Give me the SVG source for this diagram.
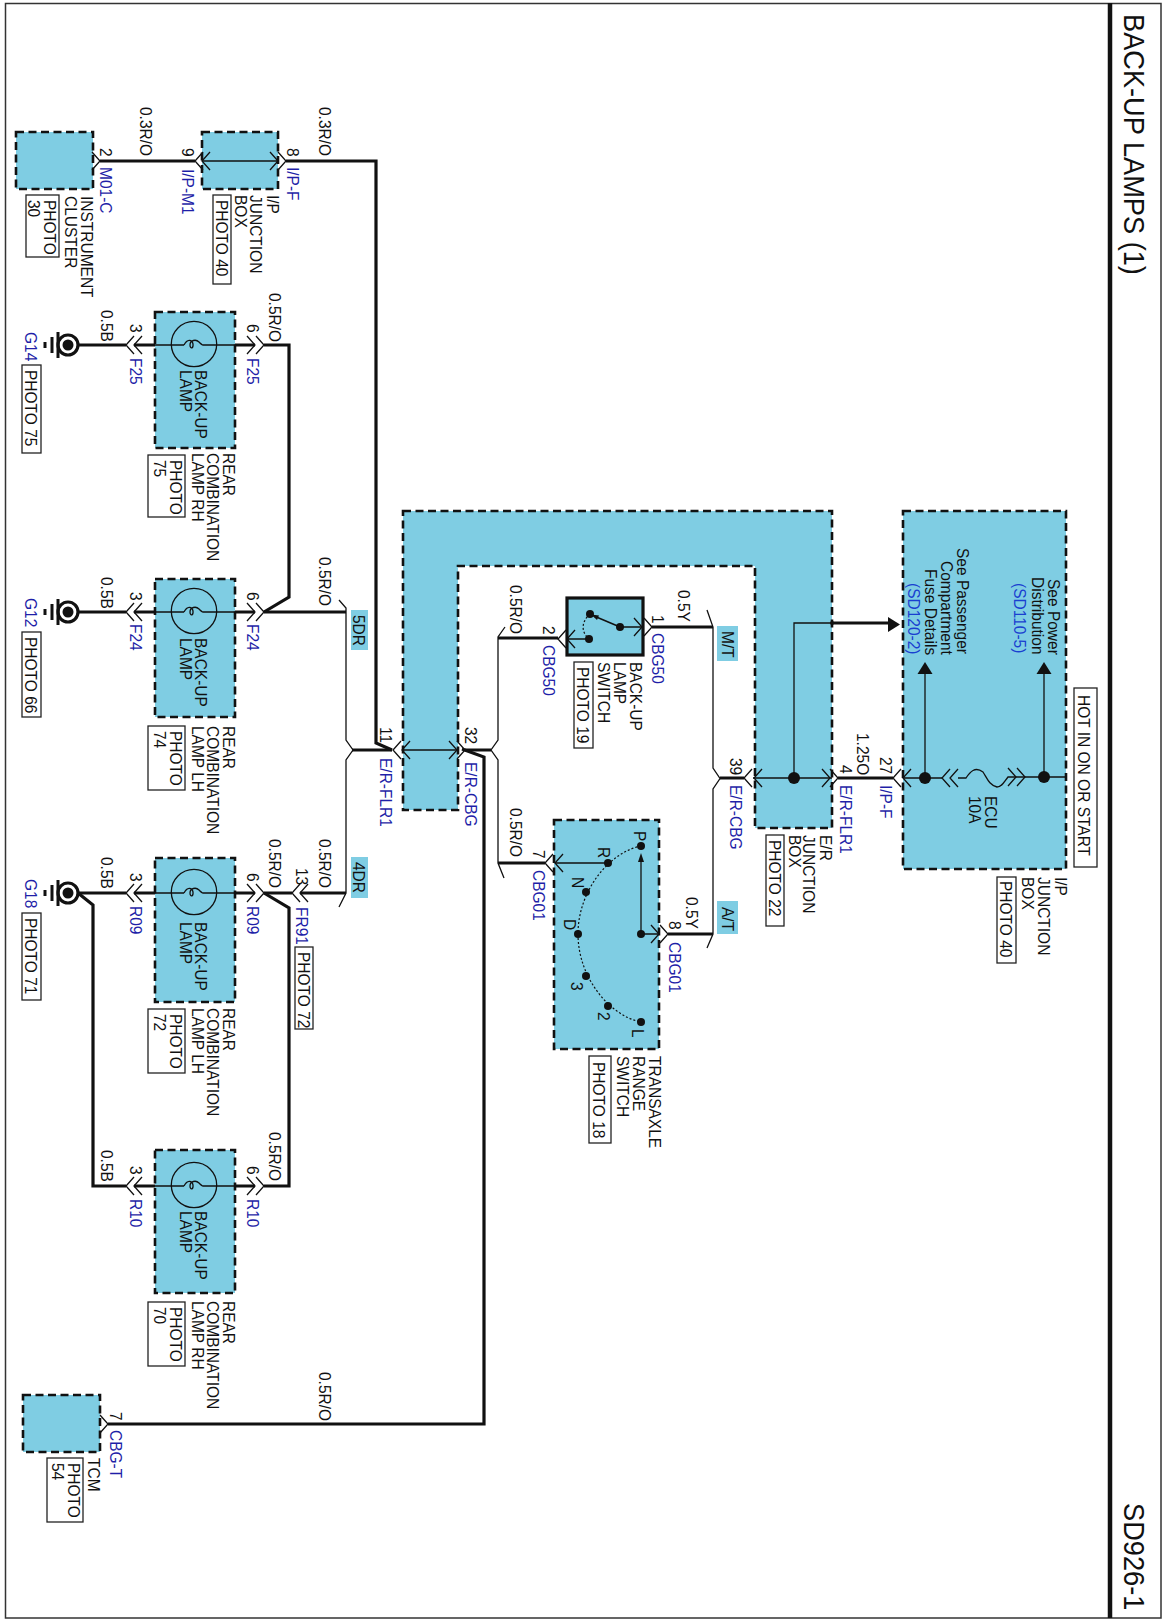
<svg xmlns="http://www.w3.org/2000/svg" width="1166" height="1622" viewBox="0 0 1166 1622">
<style>
text{font-family:"Liberation Sans",Arial,sans-serif;font-size:15.5px;fill:#111}
.b{fill:#1f1fa8}
.bb{fill:#1a3fd0}
.h{font-size:27.2px}
.box{fill:#7fcde3;stroke:#111;stroke-width:2.6;stroke-dasharray:8 4.5}
.chip{fill:#7fcde3}
.ph{fill:#fff;stroke:#222;stroke-width:1.3}
.w{fill:none;stroke:#111;stroke-width:3.2}
.f{fill:none;stroke:#111;stroke-width:1.3}
.dot{fill:#111}
.d{fill:none;stroke:#111;stroke-width:1.2;stroke-dasharray:2 2}
</style>
<defs>
<path id="cr" class="f" d="M-8 -9L0 0L-8 9"/>
<path id="cl" class="f" d="M8 -9L0 0L8 9"/>
<g id="lampglyph">
<circle class="f" cx="0" cy="0" r="22.7"/>
<path class="f" d="M-10 1C-7 -5 -2 -5 -1 0C-.5 5 -4 5 -4 1C-4 -4 2 -5 5 -2C7 0 8 1 9 1"/>
</g>
<g id="gnd">
<circle cx="0" cy="0" r="10" fill="#fff" stroke="#111" stroke-width="3.2"/>
<circle cx="0" cy="0" r="5.5" fill="#111"/>
<path d="M-10 -13V13M-16 -8V8M-23 -3V3" fill="none" stroke="#111" stroke-width="3"/>
</g>
</defs>
<rect id="frame" x="5.5" y="3.5" width="1155.5" height="1614.5" fill="none" stroke="#333" stroke-width="1.5"/>
<path d="M1110 3V1618" stroke="#111" stroke-width="4.5"/>
<g id="title">
<text class="h" transform="matrix(0 1 -1.08 0 1124 14)">BACK-UP LAMPS (1)</text>
<text class="h" transform="matrix(0 1 -1.08 0 1124 1503)">SD926-1</text>
</g>

<g id="instrument-cluster">
<rect class="box" x="16" y="132" width="77" height="57"/>
<text transform="matrix(0 1 -1.06 0 81 196)">INSTRUMENT</text>
<text transform="matrix(0 1 -1.06 0 65 196)">CLUSTER</text>
<rect class="ph" x="26" y="195" width="33" height="62"/>
<text transform="matrix(0 1 -1.06 0 44 200)">PHOTO</text>
<text transform="matrix(0 1 -1.06 0 28 200)">30</text>
</g>

<g id="ip-junction-top">
<rect class="box" x="202" y="132" width="76" height="57"/>
<path class="f" d="M202 161H278"/>
<use href="#cl" x="202" y="161"/><use href="#cr" x="278" y="161"/>
<text transform="matrix(0 1 -1.06 0 267 195)">I/P</text>
<text transform="matrix(0 1 -1.06 0 250 195)">JUNCTION</text>
<text transform="matrix(0 1 -1.06 0 235 195)">BOX</text>
<rect class="ph" x="213" y="195" width="18" height="89"/>
<text transform="matrix(0 1 -1.06 0 216 200)">PHOTO 40</text>
</g>

<g id="lamp-f25">
<rect class="box" x="155" y="312" width="80" height="136"/>
<use href="#lampglyph" x="194" y="344"/>
<path class="f" d="M155 345H184M203 345H235"/>
<text transform="matrix(0 1 -1.06 0 195 370)">BACK-UP</text>
<text transform="matrix(0 1 -1.06 0 180 370)">LAMP</text>
<text transform="matrix(0 1 -1.06 0 223 453)">REAR</text>
<text transform="matrix(0 1 -1.06 0 207 453)">COMBINATION</text>
<text transform="matrix(0 1 -1.06 0 192 453)">LAMP RH</text>
<rect class="ph" x="148" y="455" width="37" height="62"/>
<text transform="matrix(0 1 -1.06 0 170 460)">PHOTO</text>
<text transform="matrix(0 1 -1.06 0 154 460)">75</text>
</g>
<g id="lamp-f24">
<rect class="box" x="155" y="579" width="80" height="138"/>
<use href="#lampglyph" x="194" y="611"/>
<path class="f" d="M155 612H184M203 612H235"/>
<text transform="matrix(0 1 -1.06 0 195 638)">BACK-UP</text>
<text transform="matrix(0 1 -1.06 0 180 638)">LAMP</text>
<text transform="matrix(0 1 -1.06 0 223 726)">REAR</text>
<text transform="matrix(0 1 -1.06 0 207 726)">COMBINATION</text>
<text transform="matrix(0 1 -1.06 0 192 726)">LAMP LH</text>
<rect class="ph" x="148" y="726" width="37" height="64"/>
<text transform="matrix(0 1 -1.06 0 170 731)">PHOTO</text>
<text transform="matrix(0 1 -1.06 0 154 731)">74</text>
</g>
<g id="lamp-r09">
<rect class="box" x="155" y="858" width="80" height="144"/>
<use href="#lampglyph" x="194" y="892"/>
<path class="f" d="M155 893H184M203 893H235"/>
<text transform="matrix(0 1 -1.06 0 195 922)">BACK-UP</text>
<text transform="matrix(0 1 -1.06 0 180 922)">LAMP</text>
<text transform="matrix(0 1 -1.06 0 223 1008)">REAR</text>
<text transform="matrix(0 1 -1.06 0 207 1008)">COMBINATION</text>
<text transform="matrix(0 1 -1.06 0 192 1008)">LAMP LH</text>
<rect class="ph" x="148" y="1009" width="37" height="64"/>
<text transform="matrix(0 1 -1.06 0 170 1014)">PHOTO</text>
<text transform="matrix(0 1 -1.06 0 154 1014)">72</text>
</g>
<g id="lamp-r10">
<rect class="box" x="155" y="1150" width="80" height="143"/>
<use href="#lampglyph" x="194" y="1185"/>
<path class="f" d="M155 1186H184M203 1186H235"/>
<text transform="matrix(0 1 -1.06 0 195 1211)">BACK-UP</text>
<text transform="matrix(0 1 -1.06 0 180 1211)">LAMP</text>
<text transform="matrix(0 1 -1.06 0 223 1301)">REAR</text>
<text transform="matrix(0 1 -1.06 0 207 1301)">COMBINATION</text>
<text transform="matrix(0 1 -1.06 0 192 1301)">LAMP RH</text>
<rect class="ph" x="148" y="1302" width="37" height="64"/>
<text transform="matrix(0 1 -1.06 0 170 1307)">PHOTO</text>
<text transform="matrix(0 1 -1.06 0 154 1307)">70</text>
</g>

<g id="g14">
<use href="#gnd" x="68" y="345"/>
<text class="b" transform="matrix(0 1 -1.06 0 25 332)">G14</text>
<rect class="ph" x="22" y="365" width="19" height="88"/>
<text transform="matrix(0 1 -1.06 0 25 370)">PHOTO 75</text>
</g>
<g id="g12">
<use href="#gnd" x="68" y="612"/>
<text class="b" transform="matrix(0 1 -1.06 0 25 598)">G12</text>
<rect class="ph" x="22" y="632" width="19" height="85"/>
<text transform="matrix(0 1 -1.06 0 25 637)">PHOTO 66</text>
</g>
<g id="g18">
<use href="#gnd" x="68" y="893"/>
<text class="b" transform="matrix(0 1 -1.06 0 25 879)">G18</text>
<rect class="ph" x="22" y="913" width="19" height="87"/>
<text transform="matrix(0 1 -1.06 0 25 918)">PHOTO 71</text>
</g>

<g id="tcm">
<rect class="box" x="23" y="1395" width="77" height="57"/>
<text transform="matrix(0 1 -1.06 0 88 1458)">TCM</text>
<rect class="ph" x="47" y="1458" width="36" height="64"/>
<text transform="matrix(0 1 -1.06 0 68 1463)">PHOTO</text>
<text transform="matrix(0 1 -1.06 0 52 1463)">54</text>
</g>

<g id="er-junction">
<path class="box" d="M403 511H832V828H755V566H458V810H403Z"/>
<path class="f" d="M403 750H458M753 778H832M794 778V623H832"/>
<circle class="dot" cx="794" cy="778" r="6"/>
<circle class="dot" cx="832" cy="623" r="2"/>
<use href="#cl" x="402" y="750"/><use href="#cr" x="457" y="750"/>
<use href="#cl" x="754" y="778"/><use href="#cr" x="830" y="778"/>
<text transform="matrix(0 1 -1.06 0 820 835)">E/R</text>
<text transform="matrix(0 1 -1.06 0 803 835)">JUNCTION</text>
<text transform="matrix(0 1 -1.06 0 789 835)">BOX</text>
<rect class="ph" x="766" y="835" width="18" height="91"/>
<text transform="matrix(0 1 -1.06 0 769 840)">PHOTO 22</text>
</g>

<g id="backup-switch">
<rect x="567" y="598" width="76" height="57" fill="#7fcde3" stroke="#111" stroke-width="3.2"/>
<path class="f" d="M620 627H642M589 639H567"/>
<use href="#cr" x="642" y="627"/><use href="#cl" x="567" y="639"/>
<path d="M620 627L594 616" stroke="#111" stroke-width="1.6"/>
<path class="dot" d="M591 614.5L599 615.5L597 620Z"/>
<path class="d" d="M590 614C581 622 581 632 589 639"/>
<circle class="dot" cx="590" cy="614" r="4"/>
<circle class="dot" cx="620" cy="627" r="4"/>
<circle class="dot" cx="589" cy="639" r="4"/>
<text transform="matrix(0 1 -1.06 0 630 662)">BACK-UP</text>
<text transform="matrix(0 1 -1.06 0 614 662)">LAMP</text>
<text transform="matrix(0 1 -1.06 0 598 662)">SWITCH</text>
<rect class="ph" x="574" y="662" width="19" height="86"/>
<text transform="matrix(0 1 -1.06 0 577 667)">PHOTO 19</text>
</g>

<g id="transaxle-switch">
<rect class="box" x="554" y="820" width="105" height="229"/>
<path class="f" d="M555 863H608M641 934H659M641 934V860"/>
<use href="#cl" x="555" y="863"/><use href="#cr" x="659" y="934"/>
<path class="dot" d="M641 853L644 862H638Z"/>
<path class="d" d="M641 846C610 852 578 890 578 934C578 978 610 1016 641 1022"/>
<g class="dot">
<circle cx="641" cy="846" r="4"/><circle cx="608" cy="863" r="4"/><circle cx="586" cy="892" r="4"/><circle cx="578" cy="934" r="4"/><circle cx="586" cy="976" r="4"/><circle cx="608" cy="1006" r="4"/><circle cx="641" cy="1022" r="4"/><circle cx="641" cy="934" r="4"/>
</g>
<text transform="matrix(0 1 -1.06 0 634 831)">P</text>
<text transform="matrix(0 1 -1.06 0 598 847)">R</text>
<text transform="matrix(0 1 -1.06 0 572 877)">N</text>
<text transform="matrix(0 1 -1.06 0 564 919)">D</text>
<text transform="matrix(0 1 -1.06 0 571 982)">3</text>
<text transform="matrix(0 1 -1.06 0 598 1012)">2</text>
<text transform="matrix(0 1 -1.06 0 632 1029)">L</text>
<text transform="matrix(0 1 -1.06 0 649 1056)">TRANSAXLE</text>
<text transform="matrix(0 1 -1.06 0 633 1056)">RANGE</text>
<text transform="matrix(0 1 -1.06 0 617 1056)">SWITCH</text>
<rect class="ph" x="589" y="1056" width="22" height="87"/>
<text transform="matrix(0 1 -1.06 0 593 1062)">PHOTO 18</text>
</g>

<g id="ip-junction-main">
<rect class="box" x="903" y="511" width="163" height="358"/>
<path class="f" d="M903 778H942M925 778V670M1044 777V670M1025 777H1066M958 778H966C970 772 975 766 983 772C987 778 989 785 997 787C1002 787 1004 782 1008 777H1025"/>
<use href="#cl" x="903" y="778"/><use href="#cl" x="942" y="778"/><use href="#cl" x="950" y="778"/>
<use href="#cr" x="1016" y="777"/><use href="#cr" x="1025" y="777"/>
<circle class="dot" cx="925" cy="778" r="6"/>
<circle class="dot" cx="1044" cy="777" r="6"/>
<path class="dot" d="M925 662L932.5 674H917.5Z"/>
<path class="dot" d="M1044 662L1051.5 674H1036.5Z"/>
<text transform="matrix(0 1 -1.06 0 985 796)">ECU</text>
<text transform="matrix(0 1 -1.06 0 969 796)">10A</text>
<text transform="matrix(0 1 -1.06 0 1048 579)">See Power</text>
<text transform="matrix(0 1 -1.06 0 1032 577)">Distribution</text>
<text class="bb" transform="matrix(0 1 -1.06 0 1014 583)">(SD110-5)</text>
<text transform="matrix(0 1 -1.06 0 957 548)">See Passenger</text>
<text transform="matrix(0 1 -1.06 0 941 561)">Compartment</text>
<text transform="matrix(0 1 -1.06 0 925 569)">Fuse Details</text>
<text class="bb" transform="matrix(0 1 -1.06 0 908 583)">(SD120-2)</text>
<text transform="matrix(0 1 -1.06 0 1055 877)">I/P</text>
<text transform="matrix(0 1 -1.06 0 1038 877)">JUNCTION</text>
<text transform="matrix(0 1 -1.06 0 1022 877)">BOX</text>
<rect class="ph" x="997" y="877" width="19" height="86"/>
<text transform="matrix(0 1 -1.06 0 1000 881)">PHOTO 40</text>
<rect class="ph" x="1074" y="688" width="23" height="179"/>
<text transform="matrix(0 1 -1.06 0 1078 695)">HOT IN ON OR START</text>
</g>

<g id="connectors">
<path class="w" d="M100 161H195M286 161H376V743L392 750"/>
<path class="w" d="M78 345H126M134 345H155M235 345H255M264 345H289V597L264 612"/>
<path class="w" d="M78 612H126M134 612H155M235 612H255M264 612H346"/>
<path class="w" d="M78 893H126M134 893H155M235 893H255M264 893H292M300 893H346"/>
<path class="w" d="M264 893L289 908V1186H264M235 1186H255M155 1186H134M126 1186H93V905L78 893"/>
<path class="w" d="M352 750H392"/>
<path class="w" d="M465 750H491M498 638H558M498 863H545M652 627H713M668 934H713M720 778H744M838 778H893"/>
<path class="w" d="M108 1424H484V757L462 749"/>
<path class="w" d="M832 623H890" stroke-width="4"/>
<path class="dot" d="M900 624.500L888 617V632Z"/>
<path class="f" d="M339 600L346 608V740L353 750L346 760V893L339 907"/>
<path class="f" d="M505 627L498 637V740L491 750L498 760V863L504 878"/>
<path class="f" d="M707 610L713 627V768L720 778.500L713 789V934L707 948"/>
<use href="#cr" x="100" y="161"/><use href="#cl" x="195" y="161"/><use href="#cr" x="286" y="161"/>
<use href="#cl" x="126" y="345"/><use href="#cl" x="134" y="345"/><use href="#cr" x="255" y="345"/><use href="#cr" x="264" y="345"/>
<use href="#cl" x="126" y="612"/><use href="#cl" x="134" y="612"/><use href="#cr" x="255" y="612"/><use href="#cr" x="264" y="612"/>
<use href="#cl" x="126" y="893"/><use href="#cl" x="134" y="893"/><use href="#cr" x="255" y="893"/><use href="#cr" x="264" y="893"/>
<use href="#cl" x="292" y="893"/><use href="#cl" x="300" y="893"/>
<use href="#cl" x="126" y="1186"/><use href="#cl" x="134" y="1186"/><use href="#cr" x="255" y="1186"/><use href="#cr" x="264" y="1186"/>
<use href="#cr" x="108" y="1424"/>
<use href="#cl" x="393" y="750"/><use href="#cr" x="465" y="750"/>
<use href="#cl" x="558" y="639"/><use href="#cr" x="652" y="627"/>
<use href="#cl" x="545" y="863"/><use href="#cr" x="668" y="934"/>
<use href="#cl" x="744" y="778"/><use href="#cr" x="838" y="778"/><use href="#cl" x="893" y="778"/>
</g>

<g id="wire-labels">
<text transform="matrix(0 1 -1.06 0 140 107)">0.3R/O</text>
<text transform="matrix(0 1 -1.06 0 319 107)">0.3R/O</text>
<text transform="matrix(0 1 -1.06 0 269 293)">0.5R/O</text>
<text transform="matrix(0 1 -1.06 0 101 310)">0.5B</text>
<text transform="matrix(0 1 -1.06 0 101 577)">0.5B</text>
<text transform="matrix(0 1 -1.06 0 319 557)">0.5R/O</text>
<text transform="matrix(0 1 -1.06 0 101 857)">0.5B</text>
<text transform="matrix(0 1 -1.06 0 269 839)">0.5R/O</text>
<text transform="matrix(0 1 -1.06 0 319 839)">0.5R/O</text>
<text transform="matrix(0 1 -1.06 0 101 1150)">0.5B</text>
<text transform="matrix(0 1 -1.06 0 269 1132)">0.5R/O</text>
<text transform="matrix(0 1 -1.06 0 319 1372)">0.5R/O</text>
<text transform="matrix(0 1 -1.06 0 510 585)">0.5R/O</text>
<text transform="matrix(0 1 -1.06 0 510 808)">0.5R/O</text>
<text transform="matrix(0 1 -1.06 0 678 590)">0.5Y</text>
<text transform="matrix(0 1 -1.06 0 686 897)">0.5Y</text>
<text transform="matrix(0 1 -1.06 0 857 733)">1.25O</text>
</g>

<g id="connector-labels">
<text transform="matrix(0 1 -1.06 0 100 148)">2</text>
<text class="b" transform="matrix(0 1 -1.06 0 100 167)">M01-C</text>
<text transform="matrix(0 1 -1.06 0 182 148)">9</text>
<text class="b" transform="matrix(0 1 -1.06 0 182 169)">I/P-M1</text>
<text transform="matrix(0 1 -1.06 0 287 148)">8</text>
<text class="b" transform="matrix(0 1 -1.06 0 287 167)">I/P-F</text>
<text transform="matrix(0 1 -1.06 0 130 324)">3</text>
<text class="b" transform="matrix(0 1 -1.06 0 130 358)">F25</text>
<text transform="matrix(0 1 -1.06 0 247 324)">6</text>
<text class="b" transform="matrix(0 1 -1.06 0 247 358)">F25</text>
<text transform="matrix(0 1 -1.06 0 130 592)">3</text>
<text class="b" transform="matrix(0 1 -1.06 0 130 624)">F24</text>
<text transform="matrix(0 1 -1.06 0 247 592)">6</text>
<text class="b" transform="matrix(0 1 -1.06 0 247 624)">F24</text>
<text transform="matrix(0 1 -1.06 0 130 873)">3</text>
<text class="b" transform="matrix(0 1 -1.06 0 130 906)">R09</text>
<text transform="matrix(0 1 -1.06 0 247 873)">6</text>
<text class="b" transform="matrix(0 1 -1.06 0 247 906)">R09</text>
<text transform="matrix(0 1 -1.06 0 296 868)">13</text>
<text class="b" transform="matrix(0 1 -1.06 0 296 907)">FR91</text>
<rect class="ph" x="295" y="947" width="18" height="82"/>
<text transform="matrix(0 1 -1.06 0 298 952)">PHOTO 72</text>
<text transform="matrix(0 1 -1.06 0 130 1166)">3</text>
<text class="b" transform="matrix(0 1 -1.06 0 130 1199)">R10</text>
<text transform="matrix(0 1 -1.06 0 247 1166)">6</text>
<text class="b" transform="matrix(0 1 -1.06 0 247 1199)">R10</text>
<text transform="matrix(0 1 -1.06 0 110 1412)">7</text>
<text class="b" transform="matrix(0 1 -1.06 0 110 1430)">CBG-T</text>
<text transform="matrix(0 1 -1.06 0 380 727)">11</text>
<text class="b" transform="matrix(0 1 -1.06 0 380 758)">E/R-FLR1</text>
<text transform="matrix(0 1 -1.06 0 465 727)">32</text>
<text class="b" transform="matrix(0 1 -1.06 0 465 762)">E/R-CBG</text>
<text transform="matrix(0 1 -1.06 0 543 626)">2</text>
<text class="b" transform="matrix(0 1 -1.06 0 543 645)">CBG50</text>
<text transform="matrix(0 1 -1.06 0 652 615)">1</text>
<text class="b" transform="matrix(0 1 -1.06 0 652 633)">CBG50</text>
<text transform="matrix(0 1 -1.06 0 533 850)">7</text>
<text class="b" transform="matrix(0 1 -1.06 0 533 870)">CBG01</text>
<text transform="matrix(0 1 -1.06 0 669 921)">8</text>
<text class="b" transform="matrix(0 1 -1.06 0 669 942)">CBG01</text>
<text transform="matrix(0 1 -1.06 0 730 758)">39</text>
<text class="b" transform="matrix(0 1 -1.06 0 730 785)">E/R-CBG</text>
<text transform="matrix(0 1 -1.06 0 840 765)">4</text>
<text class="b" transform="matrix(0 1 -1.06 0 840 785)">E/R-FLR1</text>
<text transform="matrix(0 1 -1.06 0 880 757)">27</text>
<text class="b" transform="matrix(0 1 -1.06 0 880 785)">I/P-F</text>
</g>

<g id="option-chips">
<rect class="chip" x="351" y="610" width="17" height="40"/>
<text transform="matrix(0 1 -1.06 0 353 615)">5DR</text>
<rect class="chip" x="351" y="857" width="17" height="41"/>
<text transform="matrix(0 1 -1.06 0 353 862)">4DR</text>
<rect class="chip" x="717" y="626" width="21" height="35"/>
<text transform="matrix(0 1 -1.06 0 722 631)">M/T</text>
<rect class="chip" x="717" y="901" width="21" height="33"/>
<text transform="matrix(0 1 -1.06 0 722 907)">A/T</text>
</g>
</svg>
